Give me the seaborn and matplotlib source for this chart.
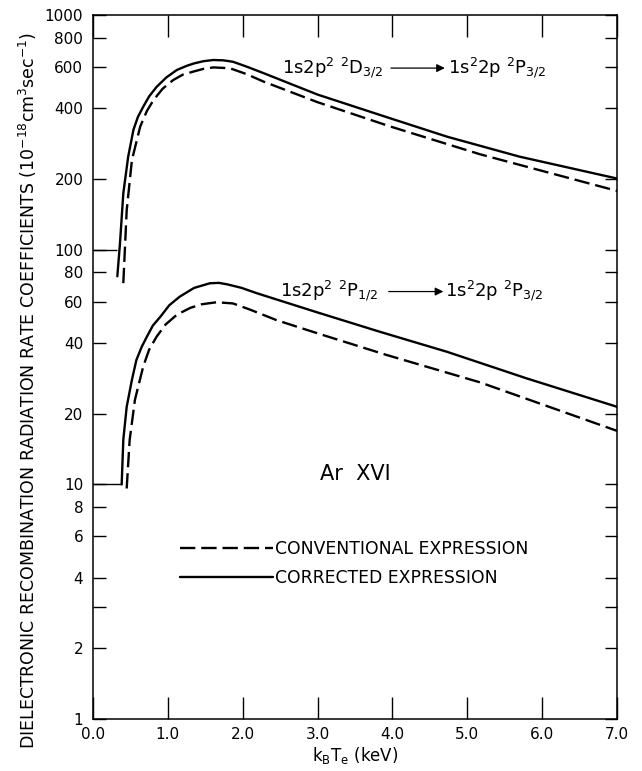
import numpy as np
import pandas as pd
import matplotlib
matplotlib.use("Agg")
import matplotlib.pyplot as plt
from matplotlib.lines import Line2D
import seaborn as sns

# ---------------- data ----------------
upper_corr_x = [0.325, 0.36, 0.405, 0.47, 0.54, 0.60, 0.67, 0.75, 0.85, 0.98, 1.12, 1.25, 1.35,
                1.48, 1.61, 1.74, 1.87, 2.05, 2.28, 3.0, 3.97, 4.73, 5.70, 7.0]
upper_corr_y = [77, 106, 174, 249, 324, 368, 406, 450, 494, 542, 583, 607, 622,
                636, 643, 641, 632, 603, 565, 458, 363, 303, 249, 201]

upper_conv_x = [0.405, 0.45, 0.52, 0.63, 0.72, 0.81, 0.93, 1.07, 1.20, 1.35, 1.48, 1.61, 1.83,
                2.05, 2.28, 3.0, 3.97, 5.17, 7.0]
upper_conv_y = [72, 147, 241, 334, 390, 435, 485, 528, 557, 575, 590, 598, 593,
                560, 520, 425, 335, 255, 178]

lower_corr_x = [0.383, 0.405, 0.45, 0.52, 0.58, 0.65, 0.72, 0.80, 0.90, 1.02, 1.16, 1.35, 1.56,
                1.68, 1.79, 1.98, 2.19, 3.0, 3.83, 4.73, 5.79, 7.0]
lower_corr_y = [10, 15.5, 21.4, 27.9, 33.9, 38.5, 42.6, 47.5, 51.8, 58, 63.1, 68.7, 71.9,
                72.2, 71.2, 68.8, 65.2, 54, 44.7, 36.7, 28.3, 21.4]

lower_conv_x = [0.45, 0.49, 0.56, 0.67, 0.75, 0.85, 0.97, 1.12, 1.30, 1.45, 1.65, 1.87, 2.10,
                2.45, 3.0, 3.92, 5.17, 7.0]
lower_conv_y = [9.6, 15.5, 22.9, 31.7, 37.5, 42.6, 48, 52.8, 56.5, 58.5, 59.7, 59.0, 55.5,
                50.1, 44, 35.6, 27.2, 16.9]

expressions = ["CONVENTIONAL EXPRESSION", "CORRECTED EXPRESSION"]
x_ticks = [0, 1, 2, 3, 4, 5, 6, 7]
x_tick_labels = ["0.0", "1.0", "2.0", "3.0", "4.0", "5.0", "6.0", "7.0"]
y_ticks = [1, 2, 3, 4, 6, 8, 10, 20, 40, 60, 80, 100, 200, 400, 600, 800, 1000]
y_tick_labels = ["1", "2", "", "4", "6", "8", "10", "20", "40", "60", "80", "100",
                 "200", "400", "600", "800", "1000"]

upper_label_left = r"1s2p$^\mathregular{2}$ $^\mathregular{2}$D$_\mathregular{3/2}$"
upper_label_right = r"1s$^\mathregular{2}$2p $^\mathregular{2}$P$_\mathregular{3/2}$"
lower_label_left = r"1s2p$^\mathregular{2}$ $^\mathregular{2}$P$_\mathregular{1/2}$"
lower_label_right = r"1s$^\mathregular{2}$2p $^\mathregular{2}$P$_\mathregular{3/2}$"
ion_label = "Ar  XVI"
x_label = r"k$_\mathregular{B}$T$_\mathregular{e}$ (keV)"
y_label = (r"DIELECTRONIC RECOMBINATION RADIATION RATE COEFFICIENTS "
           r"(10$^\mathregular{-18}$cm$^\mathregular{3}$sec$^\mathregular{-1}$)")

# ---------------- long table ----------------
frames = []
for name, xs, ys, expr in [
    ("upper_corr", upper_corr_x, upper_corr_y, expressions[1]),
    ("upper_conv", upper_conv_x, upper_conv_y, expressions[0]),
    ("lower_corr", lower_corr_x, lower_corr_y, expressions[1]),
    ("lower_conv", lower_conv_x, lower_conv_y, expressions[0]),
]:
    frames.append(pd.DataFrame({"kT": xs, "rate": ys, "curve": name, "expression": expr}))
df = pd.concat(frames, ignore_index=True)

# ---------------- style ----------------
sns.set_theme(style="ticks")
plt.rcParams["font.family"] = ["DejaVu Sans"]
plt.rcParams["mathtext.fontset"] = "dejavusans"
plt.rcParams["axes.linewidth"] = 1.1
plt.rcParams["text.color"] = "black"
plt.rcParams["axes.labelcolor"] = "black"
plt.rcParams["xtick.color"] = "black"
plt.rcParams["ytick.color"] = "black"

fig = plt.figure(figsize=(6.42, 7.71), dpi=100)
ax = fig.add_axes([93 / 642, 1 - 719 / 771, 524 / 642, 704 / 771])

LW = 1.7
DASH = (6.5, 2.5)
sns.lineplot(data=df, x="kT", y="rate", units="curve", style="expression",
             style_order=expressions,
             dashes={expressions[0]: DASH, expressions[1]: ""},
             estimator=None, sort=False, color="black", linewidth=LW,
             legend=False, ax=ax)

# extended ticks reaching the start of the solid curves
ax.hlines([100, 10], 0, [upper_corr_x[0], lower_corr_x[0]], color="black", linewidth=1.0)

ax.set_yscale("log")
ax.set_xlim(0, 7)
ax.set_ylim(1, 1000)
ax.set_xticks(x_ticks)
ax.set_xticklabels(x_tick_labels)
ax.set_yticks(y_ticks)
ax.set_yticklabels(y_tick_labels)
ax.yaxis.set_minor_locator(matplotlib.ticker.NullLocator())
ax.tick_params(axis="both", direction="in", top=True, right=True, colors="black",
               labelsize=11, width=1.0)
ax.tick_params(axis="x", length=16, pad=6)
ax.tick_params(axis="y", length=9, pad=7)
for sp in ax.spines.values():
    sp.set_color("black")

ax.set_xlabel(x_label, fontsize=12, color="black")
ax.xaxis.label.set_va("top")
ax.xaxis.set_label_coords(0.5, -0.037)
ax.set_ylabel(y_label, fontsize=12.5, color="black")
ax.yaxis.label.set_va("center")
ax.yaxis.set_label_coords(-0.124, 0.467)

# transition labels
tfs = 13
ax.text(2.525, 566, upper_label_left, fontsize=tfs, ha="left", va="baseline", color="black")
ax.annotate("", xy=(4.70, 594), xytext=(3.98, 594),
            arrowprops=dict(arrowstyle="-|>", color="black", lw=0.9,
                            mutation_scale=12, shrinkA=0, shrinkB=0))
ax.text(4.74, 566, upper_label_right, fontsize=tfs, ha="left", va="baseline", color="black")

ax.text(2.50, 63, lower_label_left, fontsize=tfs, ha="left", va="baseline", color="black")
ax.annotate("", xy=(4.68, 66.3), xytext=(3.95, 66.3),
            arrowprops=dict(arrowstyle="-|>", color="black", lw=0.9,
                            mutation_scale=12, shrinkA=0, shrinkB=0))
ax.text(4.70, 63, lower_label_right, fontsize=tfs, ha="left", va="baseline", color="black")

ax.text(3.50, 10.4, ion_label, fontsize=15, ha="center", va="baseline", color="black")

# legend
handles = [Line2D([], [], color="black", linewidth=LW, dashes=DASH),
           Line2D([], [], color="black", linewidth=LW)]
leg = ax.legend(handles, expressions, loc="upper left",
                bbox_to_anchor=((180 - 93) / 524, (719 - 540) / 704),
                frameon=False, fontsize=12.4, handlelength=5.4,
                handletextpad=0.1, labelspacing=0.65, borderpad=0, borderaxespad=0,
                labelcolor="black")

fig.savefig("out.png", dpi=100)
